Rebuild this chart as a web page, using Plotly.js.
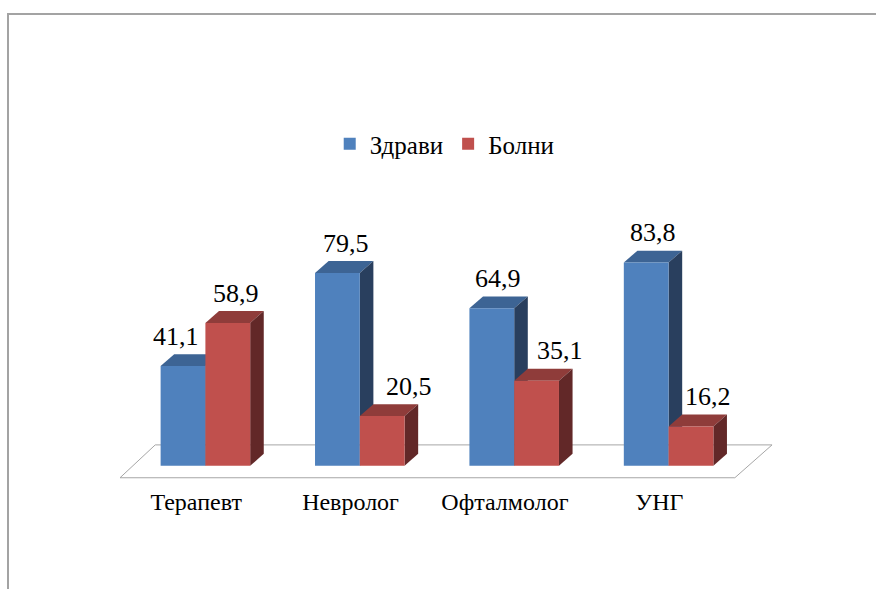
<!DOCTYPE html>
<html>
<head>
<meta charset="utf-8">
<script src="https://cdn.plot.ly/plotly-3.0.1.min.js"></script>
<style>
  html, body { margin: 0; padding: 0; background: #fff; }
  #wrap { position: relative; width: 876px; height: 589px; overflow: hidden; }
  #chart { position: absolute; left: 0; top: 0; width: 876px; height: 589px; }
  #chart svg text { font-family: 'Liberation Serif' !important; }
  #frame { position: absolute; left: 7px; top: 13px; width: 900px; height: 600px;
           border-top: 2px solid #a3a3a3; border-left: 2px solid #a3a3a3; pointer-events: none; }
</style>
</head>
<body>
<div id="wrap">
  <div id="chart"></div>
  <div id="frame"></div>
</div>
<script>
// ---- data ----
var categories = ['Терапевт', 'Невролог', 'Офталмолог', 'УНГ'];
var healthy = [41.1, 79.5, 64.9, 83.8];
var sick = [58.9, 20.5, 35.1, 16.2];
var seriesNames = ['Здрави', 'Болни'];

// ---- style / geometry ----
var SERIF = 'Liberation Serif';
var BAR_W = 0.29;          // bar width in category units
var DEPTH_X = 0.088;       // 3D depth offset (category units)
var DEPTH_Y = 4.9;         // 3D depth offset (value units)
var COLORS = {
  front: ['#4F81BD', '#C0504D'],
  top:   ['#3D6494', '#8F3C3A'],
  side:  ['#293F5E', '#622828']
};
var LABEL_XSHIFT = [[-14, 2, -1, 0], [1, 20, 17, 10]];
var LABEL_YSHIFT = 18;
var TICK_OFFSET = -0.06;

var series = [healthy, sick];
var offsets = [-BAR_W, 0];
var idx = categories.map(function (_, i) { return i; });

var traces = series.map(function (vals, s) {
  return {
    type: 'bar',
    name: seriesNames[s],
    x: idx,
    y: vals,
    base: 0,
    width: BAR_W,
    offset: offsets[s],
    marker: { color: COLORS.front[s], line: { width: 0 } },
    hoverinfo: 'skip'
  };
});

// floor
var nCat = categories.length;
var fl = -0.553, fr = nCat - 1 + 0.429, bl = -0.325, br = nCat - 1 + 0.67;
var fy = -4.95, by = 8.6;
var shapes = [{
  type: 'path', layer: 'below', xref: 'x', yref: 'y',
  path: 'M' + fl + ',' + fy + ' L' + fr + ',' + fy + ' L' + br + ',' + by + ' L' + bl + ',' + by + ' Z',
  fillcolor: '#ffffff', line: { color: '#a6a6a6', width: 1 }
}];

function poly(pts) { return 'M' + pts.map(function (p) { return p[0] + ',' + p[1]; }).join(' L') + ' Z'; }

idx.forEach(function (i) {
  series.forEach(function (vals, s) {
    var v = vals[i];
    var x0 = i + offsets[s], x1 = x0 + BAR_W;
    shapes.push({
      type: 'path', layer: 'below', xref: 'x', yref: 'y',
      path: poly([[x0, v], [x1, v], [x1 + DEPTH_X, v + DEPTH_Y], [x0 + DEPTH_X, v + DEPTH_Y]]),
      fillcolor: COLORS.top[s], line: { width: 0 }
    });
    shapes.push({
      type: 'path', layer: 'below', xref: 'x', yref: 'y',
      path: poly([[x1, 0], [x1, v], [x1 + DEPTH_X, v + DEPTH_Y], [x1 + DEPTH_X, DEPTH_Y]]),
      fillcolor: COLORS.side[s], line: { width: 0 }
    });
  });
});

var annotations = [];
series.forEach(function (vals, s) {
  vals.forEach(function (v, i) {
    annotations.push({
      xref: 'x', yref: 'y',
      x: i + offsets[s] + BAR_W / 2 + DEPTH_X / 2,
      y: v + DEPTH_Y,
      text: v.toFixed(1).replace('.', ','),
      showarrow: false,
      xanchor: 'center', yanchor: 'middle',
      xshift: LABEL_XSHIFT[s][i], yshift: LABEL_YSHIFT,
      font: { family: SERIF, size: 26, color: '#000000' }
    });
  });
});

var layout = {
  width: 876, height: 589,
  margin: { l: 51, r: 53, t: 199, b: 99, pad: 0 },
  paper_bgcolor: '#ffffff',
  plot_bgcolor: 'rgba(0,0,0,0)',
  barmode: 'overlay',
  showlegend: true,
  font: { family: SERIF },
  legend: {
    orientation: 'h', x: 0.51, xanchor: 'center', y: 1.189, yanchor: 'middle',
    bgcolor: 'rgba(0,0,0,0)', font: { family: SERIF, size: 25, color: '#000000' }
  },
  xaxis: {
    range: [-1, 4], showgrid: false, zeroline: false, showline: false, ticks: '',
    tickvals: idx.map(function (i) { return i + TICK_OFFSET; }), ticktext: categories,
    tickfont: { family: SERIF, size: 24, color: '#000000' }, automargin: false,
    ticklabelstandoff: -5
  },
  yaxis: { range: [-10, 110], visible: false },
  shapes: shapes,
  annotations: annotations
};

Plotly.newPlot('chart', traces, layout, { displayModeBar: false }).then(function (gd) {
  gd.querySelectorAll('text').forEach(function (t) {
    t.style.setProperty('font-family', "'Liberation Serif'", 'important');
  });
});
</script>
</body>
</html>
